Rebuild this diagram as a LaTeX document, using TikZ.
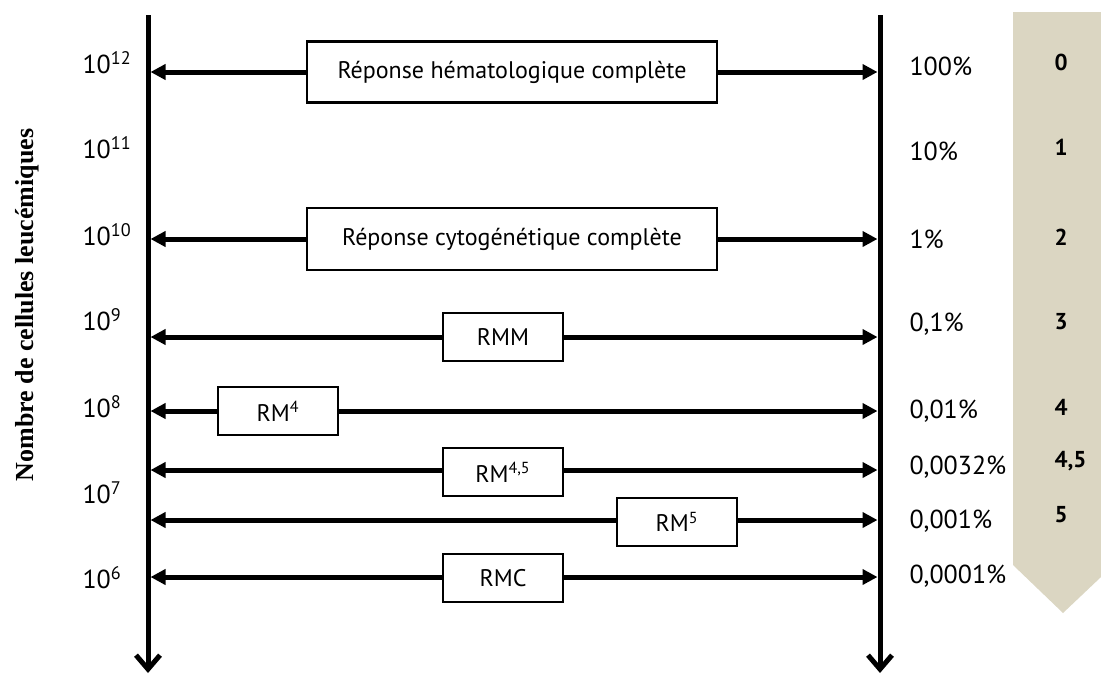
\documentclass[tikz,border=0pt]{standalone}
\usepackage{fontspec}
\setmainfont{PT Sans}
\newfontfamily\axisfont{Liberation Serif}
\usetikzlibrary{positioning}
\usetikzlibrary{arrows.meta}
\definecolor{scalebg}{RGB}{219,214,194}

\begin{document}
\begin{tikzpicture}[
            x = 0.5pt, y = -0.5pt, % one unit per pixel
            > = {Triangle[length=7.5pt, width=7.5pt]}, % arrow head style
            line width = 2.5pt,
            every node/.style={font=\fontsize{12}{14}\selectfont}
        ]

        \tikzstyle{resp}=[
            draw,
            fill = white,
            line width = 1.25pt,
            minimum height = 24pt,
            inner sep = 2pt
        ]
        \tikzstyle{lvl}=[anchor = base west, inner sep = 0pt, font=\fontsize{13}{15}\selectfont]

        \useasboundingbox (0,0) rectangle (1101,675);

        % scale band on the right
        \fill[scalebg] (1013,12) -- (1101,12) -- (1101,577) -- (1063,613) -- (1013,565) -- cycle;

        % the two axes
        \coordinate (LT) at (148,15);
        \coordinate (LB) at (148,673);
        \coordinate (RT) at (880,15);
        \coordinate (RB) at (880,673);
        \draw[-{Straight Barb[length=7pt, width=12pt]}] (LT) -- (LB);
        \draw[-{Straight Barb[length=7pt, width=12pt]}] (RT) -- (RB);

        % arrow ends on the axes
        \coordinate (L12) at (150.5,72);  \coordinate (R12) at (877.5,72);
        \coordinate (L10) at (150.5,239); \coordinate (R10) at (877.5,239);
        \coordinate (L9) at (150.5,337);  \coordinate (R9) at (877.5,337);
        \coordinate (L8) at (150.5,411);  \coordinate (R8) at (877.5,411);
        \coordinate (L45) at (150.5,470); \coordinate (R45) at (877.5,470);
        \coordinate (L5) at (150.5,520);  \coordinate (R5) at (877.5,520);
        \coordinate (L6) at (150.5,577);  \coordinate (R6) at (877.5,577);

        % responses
        \node[resp, minimum width=205pt, minimum height=30.5pt] (RHC) at (512,72) {Réponse hématologique complète};
        \node[resp, minimum width=205pt, minimum height=31pt] (RCC) at (512,239) {Réponse cytogénétique complète};
        \node[resp, minimum width=60pt] (RMM) at (503,337) {RMM};
        \node[resp, minimum width=60pt] (RM4) at (278,411) {RM\textsuperscript{4}};
        \node[resp, minimum width=60pt] (RM45) at (503,472) {RM\textsuperscript{4,5}};
        \node[resp, minimum width=60pt] (RM5) at (677,522) {RM\textsuperscript{5}};
        \node[resp, minimum width=60pt] (RMC) at (503,578) {RMC};

        \path[->]
            (RHC)  edge (L12)  (RHC)  edge (R12)
            (RCC)  edge (L10)  (RCC)  edge (R10)
            (RMM)  edge (L9)   (RMM)  edge (R9)
            (RM4)  edge (L8)   (RM4)  edge (R8)
            (RM45.west |- L45) edge (L45)  (RM45.east |- R45) edge (R45)
            (RM5.west |- L5)   edge (L5)   (RM5.east |- R5)   edge (R5)
            (RMC.west |- L6)   edge (L6)   (RMC.east |- R6)   edge (R6);

        % cell numbers
        \node[lvl] (N12) at (80,73)  {10\textsuperscript{12}};
        \node[lvl] (N11) at (80,158) {10\textsuperscript{11}};
        \node[lvl] (N10) at (80,245) {10\textsuperscript{10}};
        \node[lvl] (N9) at (80,330)  {10\textsuperscript{9}};
        \node[lvl] (N8) at (80,417)  {10\textsuperscript{8}};
        \node[lvl] (N7) at (80,503)  {10\textsuperscript{7}};
        \node[lvl] (N6) at (80,588)  {10\textsuperscript{6}};

        % percentages
        \node[lvl] (P0) at (907,75)   {100\%};
        \node[lvl] (P1) at (907,160)  {10\%};
        \node[lvl] (P2) at (907,248)  {1\%};
        \node[lvl] (P3) at (907,331)  {0,1\%};
        \node[lvl] (P4) at (907,418)  {0,01\%};
        \node[lvl] (P45) at (907,474) {0,0032\%};
        \node[lvl] (P5) at (907,528)  {0,001\%};
        \node[lvl] (P6) at (907,583)  {0,0001\%};

        % log reduction
        \tikzstyle{logr}=[anchor = west, inner sep = 0pt, font=\fontsize{11.5}{13}\selectfont\bfseries]
        \node[logr] (G0) at (1052,62)  {0};
        \node[logr] (G1) at (1052,147) {1};
        \node[logr] (G2) at (1052,237) {2};
        \node[logr] (G3) at (1052,322) {3};
        \node[logr] (G4) at (1052,407) {4};
        \node[logr] (G45) at (1052,461) {4,5};
        \node[logr] (G5) at (1052,515) {5};

        \node[rotate=90, font=\axisfont\bfseries\fontsize{13}{15}\selectfont] (YL) at (27,305) {Nombre de cellules leucémiques};

  \end{tikzpicture}
\end{document}
